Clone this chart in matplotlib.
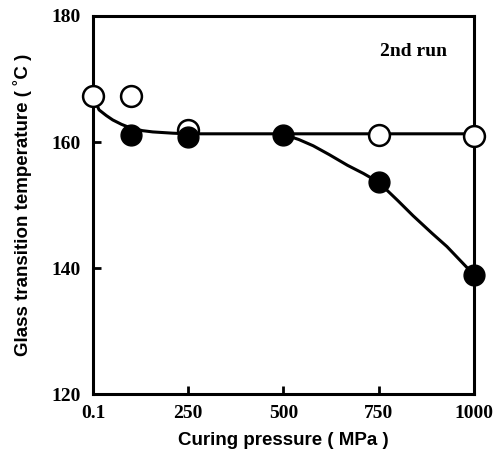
import matplotlib.pyplot as plt

# measured points
pressure = [0.1, 100, 250, 500, 750, 1000]
tg_open = [167.3, 167.3, 161.9, None, 161.1, 161.0]
tg_filled = [None, 161.1, 160.8, 161.1, 153.6, 138.9]

# hand-drawn guide curves
flat_x = [0.1, 16, 35, 52, 75, 100, 130, 157, 209, 250, 500, 1000]
flat_y = [167.3, 165.1, 164.2, 163.5, 162.8, 162.2, 161.8, 161.6, 161.4, 161.3, 161.3, 161.3]
drop_x = [500, 540, 578, 620, 668, 710, 750, 800, 840, 890, 929, 1000]
drop_y = [161.2, 160.4, 159.4, 158.0, 156.3, 155.0, 153.6, 150.7, 148.3, 145.5, 143.4, 138.9]

xticks = [0.1, 250, 500, 750, 1000]
xticklabels = ['0.1', '250', '500', '750', '1000']
yticks = [120, 140, 160, 180]

fig = plt.figure(figsize=(4.93, 4.53), dpi=100)
ax = fig.add_axes([0.1886, 0.1302, 0.7729, 0.8345])

ax.plot(flat_x, flat_y, color='black', lw=2.2, zorder=2, clip_on=False)
ax.plot(drop_x, drop_y, color='black', lw=2.2, zorder=2, clip_on=False)

ox = [p for p, v in zip(pressure, tg_open) if v is not None]
oy = [v for v in tg_open if v is not None]
fx = [p for p, v in zip(pressure, tg_filled) if v is not None]
fy = [v for v in tg_filled if v is not None]
ax.plot(ox, oy, 'o', ms=15, mfc='white', mec='black', mew=1.8,
        ls='none', zorder=3, clip_on=False)
ax.plot(fx, fy, 'o', ms=15, mfc='black', mec='black',
        ls='none', zorder=4, clip_on=False)

ax.set_xlim(0.1, 1000)
ax.set_ylim(120, 180)
ax.set_xticks(xticks)
ax.set_xticklabels(xticklabels)
ax.set_yticks(yticks)

tick_font = dict(family='Liberation Serif', weight='bold', size=14)
for lab in ax.get_xticklabels() + ax.get_yticklabels():
    lab.set_fontfamily('Liberation Serif')
    lab.set_fontweight('bold')
    lab.set_fontsize(14)
ax.tick_params(direction='in', length=6, width=2)
ax.tick_params(axis='x', pad=8)
ax.tick_params(axis='y', pad=9)
for s in ax.spines.values():
    s.set_linewidth(2.2)

ax.text(840, 174.3, '2nd run', ha='center', va='center', **tick_font)

lab_font = dict(family='Liberation Sans', weight='bold', size=13.5)
ax.set_xlabel('Curing pressure ( MPa )', labelpad=7, **lab_font)
ax.set_ylabel('Glass transition temperature ( ˚C )', labelpad=14, **lab_font)

fig.savefig('out.png', dpi=100)
